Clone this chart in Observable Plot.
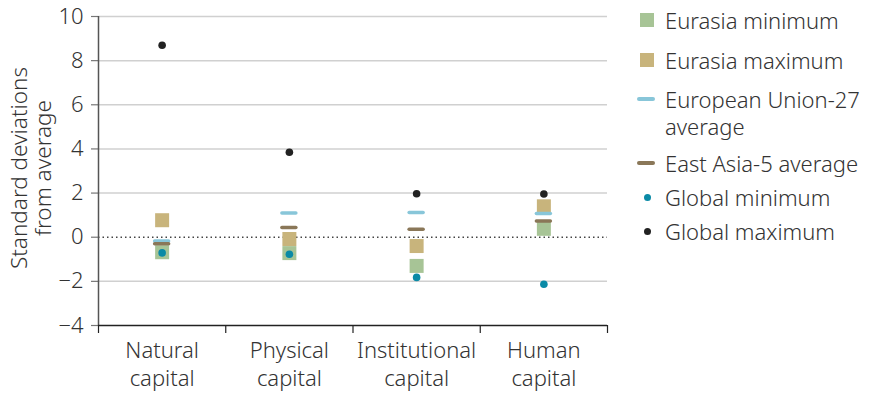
<!DOCTYPE html>
<html>
<head>
<meta charset="utf-8">
<script src="https://cdn.jsdelivr.net/npm/d3@7"></script>
<script src="https://cdn.jsdelivr.net/npm/@observablehq/plot@0.6"></script>
<style>
  html, body { margin: 0; padding: 0; background: #fff; }
  #wrap { position: relative; width: 871px; height: 395px; font-family: "Noto Sans", "Open Sans", sans-serif; color: #333; }
  #wrap svg { position: absolute; left: 0; top: 0; }
  .lg { position: absolute; left: 665px; font-size: 22px; line-height: 27px; width: 206px; font-weight: 300; }
  .sw { position: absolute; }
</style>
</head>
<body>
<div id="wrap"></div>
<script>
const categories = ["Natural capital", "Physical capital", "Institutional capital", "Human capital"];
const eurasiaMin = [-0.68, -0.72, -1.3, 0.38];
const eurasiaMax = [0.77, -0.08, -0.4, 1.4];
const eu27Avg = [-0.17, 1.1, 1.12, 1.07];
const eastAsia5Avg = [-0.3, 0.44, 0.36, 0.74];
const globalMin = [-0.71, -0.77, -1.82, -2.13];
const globalMax = [8.7, 3.85, 1.97, 1.96];
const yTicks = [-4, -2, 0, 2, 4, 6, 8, 10];
const legendLabels = ["Eurasia minimum", "Eurasia maximum", "European Union-27 average", "East Asia-5 average", "Global minimum", "Global maximum"];

const colors = {
  emin: "#a7c496", emax: "#c8b47c", eu: "#88c6d9", ea: "#8a7758", gmin: "#0a8aa6", gmax: "#222222"
};

const rows = categories.map((c, i) => ({
  i, c, emin: eurasiaMin[i], emax: eurasiaMax[i], eu: eu27Avg[i], ea: eastAsia5Avg[i], gmin: globalMin[i], gmax: globalMax[i]
}));

const font = "'Noto Sans', 'Open Sans', sans-serif";
const cx = d => d.i + 0.5;

const chart = Plot.plot({
  width: 871, height: 395,
  marginLeft: 98, marginRight: 264, marginTop: 16, marginBottom: 70,
  x: { domain: [0, 4] },
  y: { domain: [-4, 10] },
  style: { fontFamily: font, fontSize: "22px", color: "#333", background: "transparent", fontWeight: 300 },
  marks: [
    Plot.gridY([-2, 2, 4, 6, 8, 10], { stroke: "#d0d0d0", strokeOpacity: 1, strokeWidth: 1.5 }),
    Plot.axisY(yTicks, { tickSize: 7, tickPadding: 8, stroke: "#777", strokeWidth: 1.2, fill: "#333", fontSize: 22, label: null }),
    Plot.axisX([0.5, 1.5, 2.5, 3.5], { tickSize: 0, tickPadding: 13, lineHeight: 1.27, fontSize: 22, fill: "#333",
      tickFormat: d => categories[d - 0.5].replace(" ", "\n"), label: null }),
    Plot.axisX([0, 1, 2, 3, 4], { tickSize: 8, tickFormat: () => "", stroke: "#222", strokeWidth: 1.2, label: null }),
    Plot.ruleY([0], { stroke: "#444", strokeDasharray: "1.5,3", strokeWidth: 1.5 }),
    Plot.ruleX([0], { stroke: "#555", strokeWidth: 1.5 }),
    Plot.ruleY([-4], { stroke: "#222", strokeWidth: 1.6 }),
    Plot.dot(rows, { x: cx, y: "emin", symbol: "square", r: 7.9, fill: colors.emin }),
    Plot.dot(rows, { x: cx, y: "emax", symbol: "square", r: 7.9, fill: colors.emax }),
    Plot.ruleY(rows, { y: "eu", x1: d => d.i + 0.445, x2: d => d.i + 0.555, stroke: colors.eu, strokeWidth: 3.5, strokeLinecap: "round" }),
    Plot.ruleY(rows, { y: "ea", x1: d => d.i + 0.445, x2: d => d.i + 0.555, stroke: colors.ea, strokeWidth: 3.5, strokeLinecap: "round" }),
    Plot.dot(rows, { x: cx, y: "gmin", r: 3.8, fill: colors.gmin }),
    Plot.dot(rows, { x: cx, y: "gmax", r: 3.8, fill: colors.gmax })
  ]
});

const wrap = document.getElementById("wrap");
wrap.appendChild(chart);

// y-axis title
const ns = "http://www.w3.org/2000/svg";
const title = document.createElementNS(ns, "text");
title.setAttribute("transform", "translate(30,168) rotate(-90)");
title.setAttribute("text-anchor", "middle");
title.setAttribute("font-size", "22.5");
title.setAttribute("font-weight", "300");
title.setAttribute("fill", "#333");
[["Standard deviations", -12], ["from average", 12]].forEach(([t, dy]) => {
  const ts = document.createElementNS(ns, "tspan");
  ts.setAttribute("x", 0);
  ts.setAttribute("y", dy);
  ts.setAttribute("dominant-baseline", "central");
  ts.textContent = t;
  title.appendChild(ts);
});
chart.appendChild(title);

// legend
const legendCenters = [20, 60, 99, 163, 197, 231];
const kinds = [["square", colors.emin], ["square", colors.emax], ["line", colors.eu], ["line", colors.ea], ["dot", colors.gmin], ["dot", colors.gmax]];
legendLabels.forEach((lab, k) => {
  const yc = legendCenters[k];
  const t = document.createElement("div");
  t.className = "lg";
  t.style.top = (yc - 13.5) + "px";
  t.textContent = lab;
  wrap.appendChild(t);
  const s = document.createElement("div");
  s.className = "sw";
  const [kind, col] = kinds[k];
  s.style.background = col;
  if (kind === "square") { s.style.left = "640px"; s.style.top = (yc - 7) + "px"; s.style.width = "14px"; s.style.height = "14px"; }
  else if (kind === "line") { s.style.left = "637px"; s.style.top = (yc - 1.75) + "px"; s.style.width = "18px"; s.style.height = "3.5px"; s.style.borderRadius = "2px"; }
  else { s.style.left = "644px"; s.style.top = (yc - 3.5) + "px"; s.style.width = "7px"; s.style.height = "7px"; s.style.borderRadius = "50%"; }
  wrap.appendChild(s);
});
</script>
</body>
</html>
